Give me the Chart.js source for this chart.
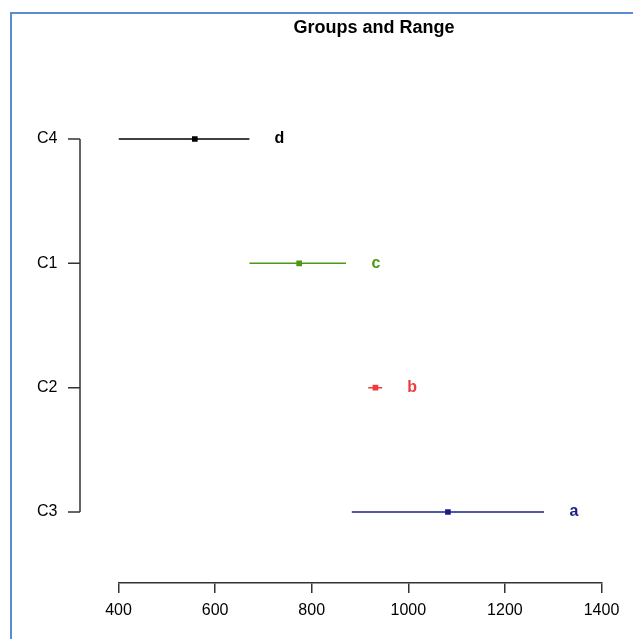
<!DOCTYPE html>
<html lang="en">
<head>
    <meta charset="UTF-8">
    <title>Groups and Range</title>
    <script src="https://cdn.jsdelivr.net/npm/chart.js"></script>
    <style>
        body { margin: 0; background: #fff; }
        canvas { display: block; }
    </style>
</head>
<body>
    <canvas id="rangeChart" width="633" height="639"></canvas>

    <script>
        // groups from top to bottom
        const groups = ['C4', 'C1', 'C2', 'C3'];
        const letters = ['d', 'c', 'b', 'a'];
        const means = [558, 774, 932, 1082];
        const lows = [400, 671, 917, 883];
        const highs = [671, 871, 946, 1281];
        const xTicks = [400, 600, 800, 1000, 1200, 1400];
        const colors = ['#000000', '#4c9a14', '#ef3b3b', '#1c1c8c'];

        const datasets = [];
        groups.forEach((g, i) => {
            datasets.push({
                label: g + ' range',
                data: [{ x: lows[i], y: i }, { x: highs[i], y: i }],
                showLine: true,
                borderColor: colors[i],
                borderWidth: 1.5,
                pointRadius: 0
            });
            datasets.push({
                label: g + ' mean',
                data: [{ x: means[i], y: i }],
                pointStyle: 'rect',
                pointRadius: 4,
                pointBorderWidth: 0,
                backgroundColor: colors[i],
                borderColor: colors[i]
            });
        });

        // frame, title, group letters and the detached y axis
        const extras = {
            id: 'extras',
            afterDraw(chart) {
                const ctx = chart.ctx;
                const xs = chart.scales.x;
                const ys = chart.scales.y;
                ctx.save();

                ctx.strokeStyle = '#5b8bd0';
                ctx.lineWidth = 2;
                ctx.beginPath();
                ctx.moveTo(11, 639);
                ctx.lineTo(11, 13);
                ctx.lineTo(633, 13);
                ctx.stroke();

                ctx.fillStyle = '#000';
                ctx.font = 'bold 18px "Liberation Sans", Arial, sans-serif';
                ctx.textAlign = 'center';
                ctx.textBaseline = 'middle';
                ctx.fillText('Groups and Range', 374, 28);

                ctx.font = 'bold 16px "Liberation Sans", Arial, sans-serif';
                letters.forEach((l, i) => {
                    ctx.fillStyle = colors[i];
                    ctx.fillText(l, xs.getPixelForValue(highs[i]) + 30, ys.getPixelForValue(i));
                });

                const ax = 80;
                const top = ys.getPixelForValue(0);
                const bottom = ys.getPixelForValue(groups.length - 1);
                ctx.strokeStyle = '#333';
                ctx.lineWidth = 1.5;
                ctx.beginPath();
                ctx.moveTo(ax, top);
                ctx.lineTo(ax, bottom);
                groups.forEach((g, i) => {
                    const py = ys.getPixelForValue(i);
                    ctx.moveTo(ax - 12, py);
                    ctx.lineTo(ax, py);
                });
                ctx.stroke();
                ctx.restore();
            }
        };

        new Chart(document.getElementById('rangeChart'), {
            type: 'scatter',
            data: { datasets: datasets },
            plugins: [extras],
            options: {
                responsive: false,
                animation: false,
                layout: { padding: { top: 60, right: 31.5, left: 0, bottom: 0 } },
                plugins: {
                    legend: { display: false },
                    tooltip: { enabled: false }
                },
                scales: {
                    x: {
                        type: 'linear',
                        min: 400,
                        max: 1400,
                        afterFit: s => {
                            s.height = 56;
                            s.paddingLeft = 0;
                            s.paddingRight = 0;
                        },
                        afterBuildTicks: s => { s.ticks = xTicks.map(v => ({ value: v })); },
                        border: { display: true, color: '#333', width: 1.5 },
                        grid: {
                            drawOnChartArea: false,
                            drawTicks: true,
                            tickLength: 10,
                            color: '#333',
                            lineWidth: 1.5
                        },
                        ticks: {
                            color: '#000',
                            padding: 8,
                            maxRotation: 0,
                            callback: v => String(v),
                            font: { family: '"Liberation Sans", Arial, sans-serif', size: 16 }
                        }
                    },
                    y: {
                        type: 'linear',
                        reverse: true,
                        min: -0.635,
                        max: 3.571,
                        afterFit: s => {
                            s.width = 118.5;
                            s.paddingTop = 0;
                            s.paddingBottom = 0;
                        },
                        afterBuildTicks: s => { s.ticks = groups.map((g, i) => ({ value: i })); },
                        border: { display: false },
                        grid: { display: false, drawTicks: false },
                        ticks: {
                            color: '#000',
                            padding: 61,
                            callback: v => groups[v],
                            font: { family: '"Liberation Sans", Arial, sans-serif', size: 16 }
                        }
                    }
                }
            }
        });
    </script>
</body>
</html>
